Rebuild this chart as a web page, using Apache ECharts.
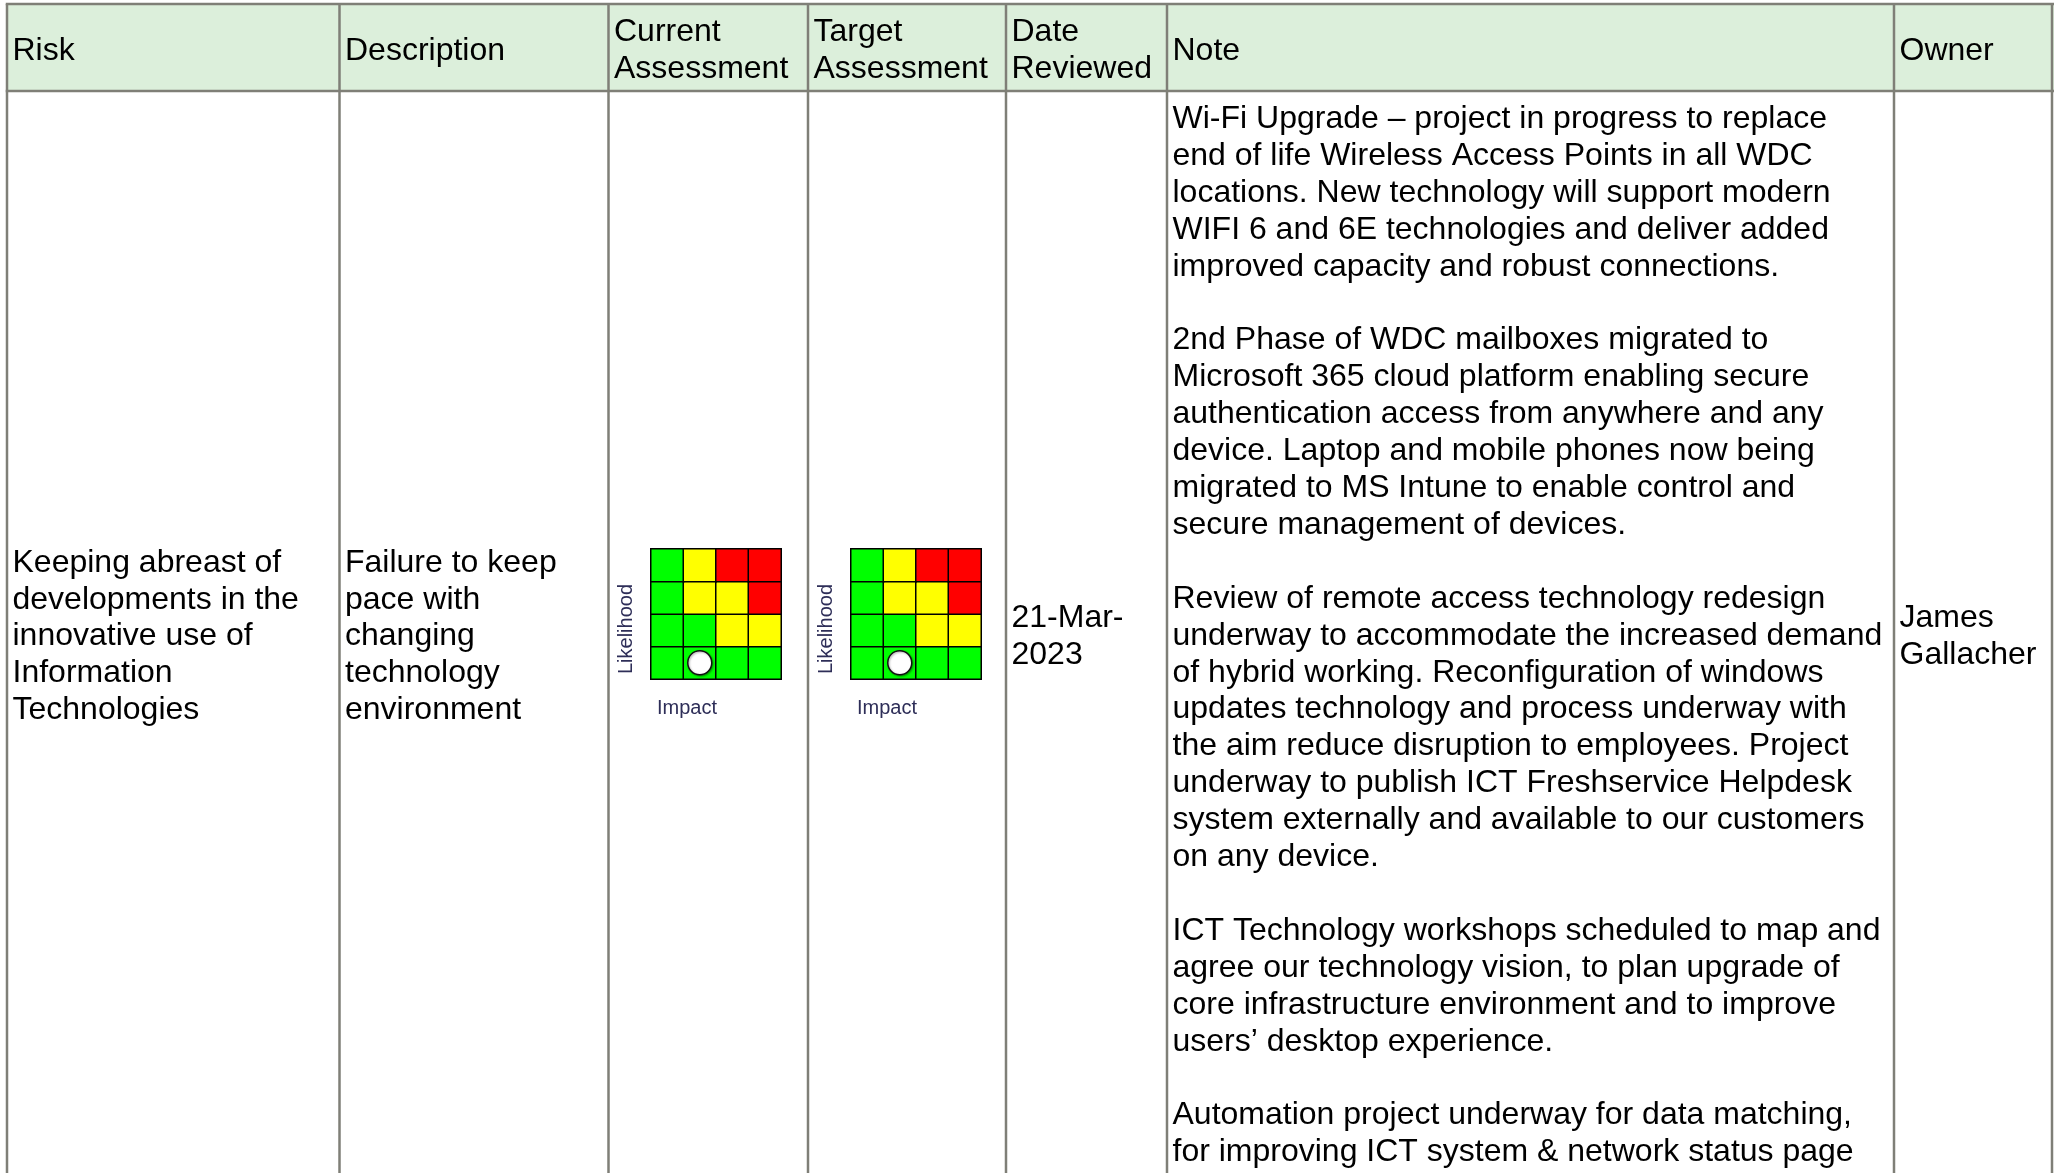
<!DOCTYPE html>
<html>
<head>
<meta charset="utf-8">
<script src="https://cdn.jsdelivr.net/npm/echarts@6/dist/echarts.min.js"></script>
<style>html,body{margin:0;padding:0;background:#fff;}#c{width:2054px;height:1173px;}</style>
</head>
<body>
<div id="c"></div>
<script>
// ---- data ----
const headers = ['Risk', 'Description', 'Current\nAssessment', 'Target\nAssessment', 'Date\nReviewed', 'Note', 'Owner'];
const riskText = ['Keeping abreast of', 'developments in the', 'innovative use of', 'Information', 'Technologies'];
const descriptionText = ['Failure to keep', 'pace with', 'changing', 'technology', 'environment'];
const dateText = ['21-Mar-', '2023'];
const ownerText = ['James', 'Gallacher'];
const noteText = [
  'Wi-Fi Upgrade \u2013 project in progress to replace',
  'end of life Wireless Access Points in all WDC',
  'locations. New technology will support modern',
  'WIFI 6 and 6E technologies and deliver added',
  'improved capacity and robust connections.',
  '',
  '2nd Phase of WDC mailboxes migrated to',
  'Microsoft 365 cloud platform enabling secure',
  'authentication access from anywhere and any',
  'device. Laptop and mobile phones now being',
  'migrated to MS Intune to enable control and',
  'secure management of devices.',
  '',
  'Review of remote access technology redesign',
  'underway to accommodate the increased demand',
  'of hybrid working. Reconfiguration of windows',
  'updates technology and process underway with',
  'the aim reduce disruption to employees. Project',
  'underway to publish ICT Freshservice Helpdesk',
  'system externally and available to our customers',
  'on any device.',
  '',
  'ICT Technology workshops scheduled to map and',
  'agree our technology vision, to plan upgrade of',
  'core infrastructure environment and to improve',
  'users\u2019 desktop experience.',
  '',
  'Automation project underway for data matching,',
  'for improving ICT system & network status page'
];
const impactLevels = ['1', '2', '3', '4'];
const likelihoodLevels = ['1', '2', '3', '4'];
// risk level per cell, rows from likelihood 1 (bottom) to 4 (top); 1=low,2=medium,3=high
const riskLevels = [
  [1, 1, 1, 1],
  [1, 1, 2, 2],
  [1, 2, 2, 3],
  [1, 2, 3, 3]
];
const currentPosition = ['2', '1']; // [impact, likelihood]
const targetPosition = ['2', '1'];

// ---- layout ----
const colX = [7, 339.5, 608.5, 808, 1006, 1167, 1894, 2052];
const headTop = 4, headBottom = 91, H = 1173;
const lineColor = '#7f7f77';
const FONT = '"Liberation Sans", Arial, sans-serif';
const LH = 36.9;
const DY = 2.6;

const heatData = [];
riskLevels.forEach((row, li) => row.forEach((v, ii) => heatData.push([impactLevels[ii], likelihoodLevels[li], v])));

const graphics = [];
graphics.push({type: 'rect', shape: {x: colX[0], y: headTop, width: 2054 - colX[0], height: headBottom - headTop}, style: {fill: '#dcefdb'}, z: 0});
[headTop, headBottom].forEach(y => graphics.push({type: 'line', shape: {x1: colX[0] - 1.25, y1: y, x2: 2054, y2: y}, style: {stroke: lineColor, lineWidth: 2.5}, z: 1}));
colX.forEach(x => graphics.push({type: 'line', shape: {x1: x, y1: headTop, x2: x, y2: H}, style: {stroke: lineColor, lineWidth: 2.5}, z: 1}));
headers.forEach((h, i) => graphics.push({type: 'text', x: colX[i] + 5.5, y: (headTop + headBottom) / 2 + 1 + DY,
  style: {text: h, fontFamily: FONT, fontSize: 32, lineHeight: LH, fill: '#000', verticalAlign: 'middle', align: 'left'}, z: 2}));
const midY = 634 + DY;
function cellText(lines, col, y, va) {
  graphics.push({type: 'text', x: colX[col] + 5.5, y: y,
    style: {text: lines.join('\n'), fontFamily: FONT, fontSize: 32, lineHeight: LH, fill: '#000', verticalAlign: va, align: 'left'}, z: 2});
}
cellText(riskText, 0, midY, 'middle');
cellText(descriptionText, 1, midY, 'middle');
cellText(dateText, 4, midY, 'middle');
cellText(ownerText, 6, midY, 'middle');
cellText(noteText, 5, 116.6 - LH / 2 + DY, 'top');

const gridLefts = [651, 851];
const gridTop = 549, gridSize = 130;
gridLefts.forEach(gl => {
  graphics.push({type: 'text', x: gl - 25, y: 629, rotation: Math.PI / 2,
    style: {text: 'Likelihood', fontFamily: FONT, fontSize: 20, fill: '#2e2e58', align: 'center', verticalAlign: 'middle'}, z: 2});
  graphics.push({type: 'text', x: gl + 6, y: 708,
    style: {text: 'Impact', fontFamily: FONT, fontSize: 20, fill: '#2e2e58', align: 'left', verticalAlign: 'middle'}, z: 2});
});

const chart = echarts.init(document.getElementById('c'), null, {renderer: 'canvas'});
const axisCommon = {type: 'category', axisLine: {show: false}, axisTick: {show: false}, axisLabel: {show: false}, splitLine: {show: false}};
const dotStyle = {color: '#ffffff', opacity: 1, borderColor: '#111', borderWidth: 1.5, shadowColor: 'rgba(0,0,0,0.35)', shadowBlur: 2, shadowOffsetX: 1, shadowOffsetY: 1};
chart.setOption({
  animation: false,
  grid: gridLefts.map(gl => ({left: gl, top: gridTop, width: gridSize, height: gridSize})),
  xAxis: gridLefts.map((_, i) => Object.assign({gridIndex: i, data: impactLevels}, axisCommon)),
  yAxis: gridLefts.map((_, i) => Object.assign({gridIndex: i, data: likelihoodLevels}, axisCommon)),
  visualMap: {type: 'piecewise', show: false, seriesIndex: [0, 1], dimension: 2,
    pieces: [{value: 1, color: '#00ff00'}, {value: 2, color: '#ffff00'}, {value: 3, color: '#ff0000'}]},
  series: [
    {type: 'heatmap', xAxisIndex: 0, yAxisIndex: 0, data: heatData, itemStyle: {borderColor: '#000', borderWidth: 1.5}},
    {type: 'heatmap', xAxisIndex: 1, yAxisIndex: 1, data: heatData, itemStyle: {borderColor: '#000', borderWidth: 1.5}},
    {type: 'scatter', xAxisIndex: 0, yAxisIndex: 0, data: [currentPosition], symbol: 'circle', symbolSize: 24, itemStyle: dotStyle, z: 5},
    {type: 'scatter', xAxisIndex: 1, yAxisIndex: 1, data: [targetPosition], symbol: 'circle', symbolSize: 24, itemStyle: dotStyle, z: 5}
  ],
  graphic: graphics
});
</script>
</body>
</html>
